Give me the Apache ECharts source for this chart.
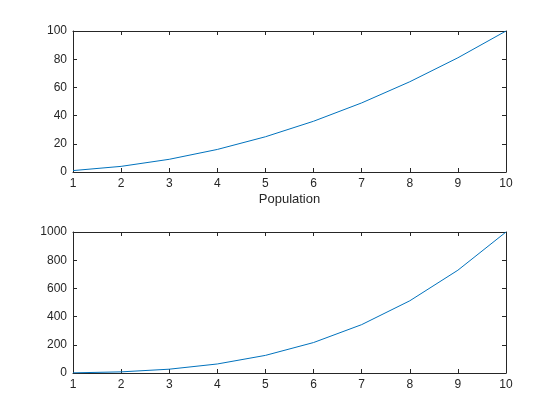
<!DOCTYPE html>
<html>
<head>
<meta charset="utf-8">
<script src="https://cdn.jsdelivr.net/npm/echarts@6/dist/echarts.min.js"></script>
<style>
  html, body { margin: 0; padding: 0; background: #fff; }
  #chart { width: 560px; height: 420px; }
</style>
</head>
<body>
<div id="chart"></div>
<script>
// x values and the two series (squares / cubes)
var xValues = [1, 2, 3, 4, 5, 6, 7, 8, 9, 10]
var squareValues = [1, 4, 9, 16, 25, 36, 49, 64, 81, 100]
var cubeValues = [1, 8, 27, 64, 125, 216, 343, 512, 729, 1000]
var xLabel = 'Population'

var axisColor = '#262626'
var lineColor = '#0072BD'
var fontFamily = 'Arial, "Liberation Sans", sans-serif'

function pairs(xs, ys) {
  return xs.map(function (x, i) { return [x, ys[i]] })
}

function xAxisFor(grid, pos, showLabels, name) {
  return {
    type: 'value',
    gridIndex: grid,
    position: pos,
    min: 1,
    max: 10,
    interval: 1,
    name: name || '',
    nameLocation: 'middle',
    nameGap: 21,
    nameTextStyle: { color: axisColor, fontSize: 13, fontFamily: fontFamily },
    axisLine: { show: true, onZero: false, lineStyle: { color: axisColor, width: 1 } },
    axisTick: { show: true, inside: true, length: 4, lineStyle: { color: axisColor } },
    axisLabel: { show: showLabels, color: axisColor, fontSize: 12, fontFamily: fontFamily, margin: 6 },
    splitLine: { show: false }
  }
}

function yAxisFor(grid, pos, max, step, showLabels) {
  return {
    type: 'value',
    gridIndex: grid,
    position: pos,
    min: 0,
    max: max,
    interval: step,
    axisLine: { show: true, onZero: false, lineStyle: { color: axisColor, width: 1 } },
    axisTick: { show: true, inside: true, length: 4, lineStyle: { color: axisColor } },
    axisLabel: {
      show: showLabels, color: axisColor, fontSize: 12, fontFamily: fontFamily, margin: 6,
      formatter: function (v) { return String(v) }
    },
    splitLine: { show: false }
  }
}

var chart = echarts.init(document.getElementById('chart'), null, { renderer: 'canvas' })
chart.setOption({
  animation: false,
  backgroundColor: '#fff',
  grid: [
    { left: 73, top: 31, width: 433, height: 141 },
    { left: 73, top: 232, width: 433, height: 141 }
  ],
  xAxis: [
    xAxisFor(0, 'bottom', true, xLabel),
    xAxisFor(0, 'top', false),
    xAxisFor(1, 'bottom', true),
    xAxisFor(1, 'top', false)
  ],
  yAxis: [
    yAxisFor(0, 'left', 100, 20, true),
    yAxisFor(0, 'right', 100, 20, false),
    yAxisFor(1, 'left', 1000, 200, true),
    yAxisFor(1, 'right', 1000, 200, false)
  ],
  series: [
    {
      type: 'line',
      xAxisIndex: 0,
      yAxisIndex: 0,
      data: pairs(xValues, squareValues),
      showSymbol: false,
      lineStyle: { color: lineColor, width: 1 },
      itemStyle: { color: lineColor }
    },
    {
      type: 'line',
      xAxisIndex: 2,
      yAxisIndex: 2,
      data: pairs(xValues, cubeValues),
      showSymbol: false,
      lineStyle: { color: lineColor, width: 1 },
      itemStyle: { color: lineColor }
    }
  ]
})
</script>
</body>
</html>
